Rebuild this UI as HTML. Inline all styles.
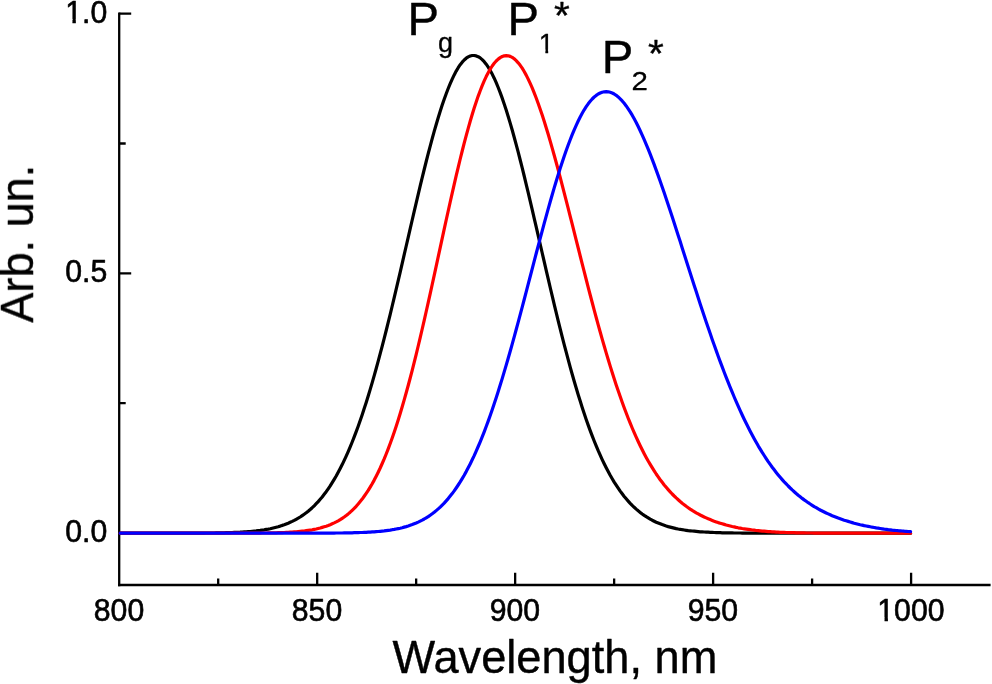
<!DOCTYPE html>
<html lang="en">
<head>
<meta charset="utf-8">
<title>Absorption spectra</title>
<style>
html,body{margin:0;padding:0;background:#fff;}
body{width:992px;height:684px;overflow:hidden;}
svg{display:block;}
text{font-family:"Liberation Sans",Arial,Helvetica,sans-serif;fill:#000;}
.ax{stroke:#000;stroke-width:2.3;fill:none;stroke-linecap:butt;}
.curve{fill:none;stroke-width:3.2;stroke-linejoin:round;stroke-linecap:round;}
</style>
</head>
<body>
<svg width="992" height="684" viewBox="0 0 992 684">
<rect x="0" y="0" width="992" height="684" fill="#ffffff"/>
<path class="ax" d="M119.2,12.50 V586.15"/>
<path class="ax" d="M118.05,585.0 H990.6"/>
<path class="ax" d="M119.2,13.65 h12 M119.2,273.35 h12 M119.2,533.05 h12 M119.2,143.50 h6.5 M119.2,403.20 h6.5 M317.18,585.0 v-12.2 M515.15,585.0 v-12.2 M713.12,585.0 v-12.2 M911.10,585.0 v-12.2 M218.19,585.0 v-6.5 M416.16,585.0 v-6.5 M614.14,585.0 v-6.5 M812.11,585.0 v-6.5"/>
<path class="curve" stroke="#000000" d="M120.2,533.2 L122.2,533.2 L124.2,533.2 L126.2,533.2 L128.2,533.2 L130.2,533.2 L132.2,533.2 L134.2,533.2 L136.2,533.2 L138.2,533.2 L140.2,533.2 L142.2,533.2 L144.2,533.2 L146.2,533.2 L148.2,533.2 L150.2,533.2 L152.2,533.2 L154.2,533.2 L156.2,533.2 L158.2,533.2 L160.2,533.2 L162.2,533.2 L164.2,533.2 L166.2,533.2 L168.2,533.2 L170.2,533.2 L172.2,533.2 L174.2,533.2 L176.2,533.2 L178.2,533.2 L180.2,533.2 L182.2,533.2 L184.2,533.2 L186.2,533.2 L188.2,533.2 L190.2,533.1 L192.2,533.1 L194.2,533.1 L196.2,533.1 L198.2,533.1 L200.2,533.1 L202.2,533.1 L204.2,533.1 L206.2,533.0 L208.2,533.0 L210.2,533.0 L212.2,533.0 L214.2,533.0 L216.2,532.9 L218.2,532.9 L220.2,532.9 L222.2,532.8 L224.2,532.8 L226.2,532.7 L228.2,532.7 L230.2,532.6 L232.2,532.5 L234.2,532.4 L236.2,532.4 L238.2,532.3 L240.2,532.2 L242.2,532.0 L244.2,531.9 L246.2,531.8 L248.2,531.6 L250.2,531.5 L252.2,531.3 L254.2,531.1 L256.2,530.9 L258.2,530.6 L260.2,530.4 L262.2,530.1 L264.2,529.8 L266.2,529.4 L268.2,529.1 L270.2,528.7 L272.2,528.2 L274.2,527.7 L276.2,527.2 L278.2,526.7 L280.2,526.1 L282.2,525.4 L284.2,524.8 L286.2,524.0 L288.2,523.2 L290.2,522.3 L292.2,521.4 L294.2,520.4 L296.2,519.3 L298.2,518.2 L300.2,517.0 L302.2,515.6 L304.2,514.2 L306.2,512.8 L308.2,511.2 L310.2,509.5 L312.2,507.7 L314.2,505.8 L316.2,503.7 L318.2,501.6 L320.2,499.3 L322.2,496.9 L324.2,494.3 L326.2,491.7 L328.2,488.8 L330.2,485.9 L332.2,482.7 L334.2,479.4 L336.2,476.0 L338.2,472.3 L340.2,468.5 L342.2,464.6 L344.2,460.4 L346.2,456.1 L348.2,451.6 L350.2,446.9 L352.2,442.0 L354.2,436.9 L356.2,431.6 L358.2,426.2 L360.2,420.5 L362.2,414.7 L364.2,408.6 L366.2,402.4 L368.2,396.0 L370.2,389.4 L372.2,382.6 L374.2,375.6 L376.2,368.5 L378.2,361.2 L380.2,353.7 L382.2,346.1 L384.2,338.4 L386.2,330.5 L388.2,322.4 L390.2,314.3 L392.2,306.0 L394.2,297.6 L396.2,289.2 L398.2,280.6 L400.2,272.1 L402.2,263.4 L404.2,254.7 L406.2,246.0 L408.2,237.3 L410.2,228.6 L412.2,220.0 L414.2,211.4 L416.2,202.8 L418.2,194.3 L420.2,185.9 L422.2,177.7 L424.2,169.5 L426.2,161.5 L428.2,153.7 L430.2,146.1 L432.2,138.7 L434.2,131.4 L436.2,124.5 L438.2,117.7 L440.2,111.3 L442.2,105.1 L444.2,99.2 L446.2,93.7 L448.2,88.5 L450.2,83.6 L452.2,79.1 L454.2,74.9 L456.2,71.1 L458.2,67.7 L460.2,64.7 L462.2,62.2 L464.2,60.0 L466.2,58.2 L468.2,56.9 L470.2,56.0 L472.2,55.5 L474.2,55.5 L476.2,55.9 L478.2,56.7 L480.2,57.9 L482.2,59.6 L484.2,61.7 L486.2,64.2 L488.2,67.1 L490.2,70.4 L492.2,74.1 L494.2,78.2 L496.2,82.6 L498.2,87.5 L500.2,92.6 L502.2,98.1 L504.2,103.9 L506.2,110.0 L508.2,116.4 L510.2,123.1 L512.2,130.0 L514.2,137.2 L516.2,144.6 L518.2,152.2 L520.2,160.0 L522.2,167.9 L524.2,176.0 L526.2,184.3 L528.2,192.6 L530.2,201.1 L532.2,209.7 L534.2,218.3 L536.2,226.9 L538.2,235.6 L540.2,244.3 L542.2,253.0 L544.2,261.7 L546.2,270.3 L548.2,278.9 L550.2,287.5 L552.2,295.9 L554.2,304.3 L556.2,312.6 L558.2,320.8 L560.2,328.9 L562.2,336.8 L564.2,344.6 L566.2,352.2 L568.2,359.7 L570.2,367.1 L572.2,374.2 L574.2,381.2 L576.2,388.0 L578.2,394.7 L580.2,401.1 L582.2,407.4 L584.2,413.5 L586.2,419.4 L588.2,425.1 L590.2,430.6 L592.2,435.9 L594.2,441.0 L596.2,445.9 L598.2,450.7 L600.2,455.2 L602.2,459.6 L604.2,463.8 L606.2,467.8 L608.2,471.6 L610.2,475.3 L612.2,478.7 L614.2,482.1 L616.2,485.2 L618.2,488.2 L620.2,491.1 L622.2,493.8 L624.2,496.4 L626.2,498.8 L628.2,501.1 L630.2,503.3 L632.2,505.4 L634.2,507.3 L636.2,509.1 L638.2,510.8 L640.2,512.4 L642.2,514.0 L644.2,515.4 L646.2,516.7 L648.2,517.9 L650.2,519.1 L652.2,520.2 L654.2,521.2 L656.2,522.2 L658.2,523.0 L660.2,523.8 L662.2,524.6 L664.2,525.3 L666.2,526.0 L668.2,526.6 L670.2,527.1 L672.2,527.6 L674.2,528.1 L676.2,528.6 L678.2,529.0 L680.2,529.3 L682.2,529.7 L684.2,530.0 L686.2,530.3 L688.2,530.6 L690.2,530.8 L692.2,531.0 L694.2,531.2 L696.2,531.4 L698.2,531.6 L700.2,531.8 L702.2,531.9 L704.2,532.0 L706.2,532.1 L708.2,532.2 L710.2,532.3 L712.2,532.4 L714.2,532.5 L716.2,532.6 L718.2,532.6 L720.2,532.7 L722.2,532.8 L724.2,532.8 L726.2,532.8 L728.2,532.9 L730.2,532.9 L732.2,532.9 L734.2,533.0 L736.2,533.0 L738.2,533.0 L740.2,533.0 L742.2,533.1 L744.2,533.1 L746.2,533.1 L748.2,533.1 L750.2,533.1 L752.2,533.1 L754.2,533.1 L756.2,533.1 L758.2,533.1 L760.2,533.2 L762.2,533.2 L764.2,533.2 L766.2,533.2 L768.2,533.2 L770.2,533.2 L772.2,533.2 L774.2,533.2 L776.2,533.2 L778.2,533.2 L780.2,533.2 L782.2,533.2 L784.2,533.2 L786.2,533.2 L788.2,533.2 L790.2,533.2 L792.2,533.2 L794.2,533.2 L796.2,533.2 L798.2,533.2 L800.2,533.2 L802.2,533.2 L804.2,533.2 L806.2,533.2 L808.2,533.2 L810.2,533.2 L812.2,533.2 L814.2,533.2 L816.2,533.2 L818.2,533.2 L820.2,533.2 L822.2,533.2 L824.2,533.2 L826.2,533.2 L828.2,533.2 L830.2,533.2 L832.2,533.2 L834.2,533.2 L836.2,533.2 L838.2,533.2 L840.2,533.2 L842.2,533.2 L844.2,533.2 L846.2,533.2 L848.2,533.2 L850.2,533.2 L852.2,533.2 L854.2,533.2 L856.2,533.2 L858.2,533.2 L860.2,533.2 L862.2,533.2 L864.2,533.2 L866.2,533.2 L868.2,533.2 L870.2,533.2 L872.2,533.2 L874.2,533.2 L876.2,533.2 L878.2,533.2 L880.2,533.2 L882.2,533.2 L884.2,533.2 L886.2,533.2 L888.2,533.2 L890.2,533.2 L892.2,533.2 L894.2,533.2 L896.2,533.2 L898.2,533.2 L900.2,533.2 L902.2,533.2 L904.2,533.2 L906.2,533.2 L908.2,533.2 L910.2,533.2 L910.6,533.2"/>
<path class="curve" stroke="#ff0000" d="M120.2,533.2 L122.2,533.2 L124.2,533.2 L126.2,533.2 L128.2,533.2 L130.2,533.2 L132.2,533.2 L134.2,533.2 L136.2,533.2 L138.2,533.2 L140.2,533.2 L142.2,533.2 L144.2,533.2 L146.2,533.2 L148.2,533.2 L150.2,533.2 L152.2,533.2 L154.2,533.2 L156.2,533.2 L158.2,533.2 L160.2,533.2 L162.2,533.2 L164.2,533.2 L166.2,533.2 L168.2,533.2 L170.2,533.2 L172.2,533.2 L174.2,533.2 L176.2,533.2 L178.2,533.2 L180.2,533.2 L182.2,533.2 L184.2,533.2 L186.2,533.2 L188.2,533.2 L190.2,533.2 L192.2,533.2 L194.2,533.2 L196.2,533.2 L198.2,533.2 L200.2,533.2 L202.2,533.2 L204.2,533.2 L206.2,533.2 L208.2,533.2 L210.2,533.2 L212.2,533.2 L214.2,533.2 L216.2,533.2 L218.2,533.2 L220.2,533.2 L222.2,533.2 L224.2,533.2 L226.2,533.2 L228.2,533.2 L230.2,533.2 L232.2,533.2 L234.2,533.2 L236.2,533.2 L238.2,533.2 L240.2,533.2 L242.2,533.2 L244.2,533.2 L246.2,533.1 L248.2,533.1 L250.2,533.1 L252.2,533.1 L254.2,533.1 L256.2,533.1 L258.2,533.1 L260.2,533.1 L262.2,533.0 L264.2,533.0 L266.2,533.0 L268.2,532.9 L270.2,532.9 L272.2,532.9 L274.2,532.8 L276.2,532.8 L278.2,532.7 L280.2,532.7 L282.2,532.6 L284.2,532.5 L286.2,532.4 L288.2,532.3 L290.2,532.2 L292.2,532.1 L294.2,531.9 L296.2,531.8 L298.2,531.6 L300.2,531.4 L302.2,531.2 L304.2,531.0 L306.2,530.7 L308.2,530.4 L310.2,530.1 L312.2,529.8 L314.2,529.4 L316.2,529.0 L318.2,528.5 L320.2,528.0 L322.2,527.4 L324.2,526.8 L326.2,526.2 L328.2,525.5 L330.2,524.7 L332.2,523.8 L334.2,522.9 L336.2,521.9 L338.2,520.8 L340.2,519.6 L342.2,518.3 L344.2,517.0 L346.2,515.5 L348.2,513.9 L350.2,512.2 L352.2,510.3 L354.2,508.4 L356.2,506.3 L358.2,504.0 L360.2,501.6 L362.2,499.1 L364.2,496.3 L366.2,493.4 L368.2,490.4 L370.2,487.1 L372.2,483.7 L374.2,480.1 L376.2,476.2 L378.2,472.2 L380.2,468.0 L382.2,463.5 L384.2,458.9 L386.2,454.0 L388.2,448.9 L390.2,443.5 L392.2,438.0 L394.2,432.2 L396.2,426.2 L398.2,420.0 L400.2,413.5 L402.2,406.8 L404.2,399.9 L406.2,392.8 L408.2,385.5 L410.2,378.0 L412.2,370.3 L414.2,362.4 L416.2,354.3 L418.2,346.0 L420.2,337.6 L422.2,329.0 L424.2,320.3 L426.2,311.5 L428.2,302.6 L430.2,293.6 L432.2,284.5 L434.2,275.3 L436.2,266.1 L438.2,256.9 L440.2,247.6 L442.2,238.4 L444.2,229.2 L446.2,220.0 L448.2,211.0 L450.2,202.0 L452.2,193.1 L454.2,184.3 L456.2,175.7 L458.2,167.3 L460.2,159.0 L462.2,151.0 L464.2,143.2 L466.2,135.6 L468.2,128.3 L470.2,121.2 L472.2,114.5 L474.2,108.0 L476.2,101.9 L478.2,96.1 L480.2,90.7 L482.2,85.6 L484.2,80.9 L486.2,76.6 L488.2,72.7 L490.2,69.1 L492.2,66.0 L494.2,63.3 L496.2,61.0 L498.2,59.1 L500.2,57.6 L502.2,56.5 L504.2,55.9 L506.2,55.7 L508.2,55.8 L510.2,56.4 L512.2,57.4 L514.2,58.8 L516.2,60.6 L518.2,62.8 L520.2,65.3 L522.2,68.2 L524.2,71.5 L526.2,75.1 L528.2,79.1 L530.2,83.4 L532.2,87.9 L534.2,92.8 L536.2,98.0 L538.2,103.5 L540.2,109.2 L542.2,115.1 L544.2,121.3 L546.2,127.7 L548.2,134.3 L550.2,141.1 L552.2,148.1 L554.2,155.2 L556.2,162.5 L558.2,169.9 L560.2,177.4 L562.2,185.1 L564.2,192.8 L566.2,200.6 L568.2,208.4 L570.2,216.3 L572.2,224.2 L574.2,232.1 L576.2,240.1 L578.2,248.0 L580.2,256.0 L582.2,263.9 L584.2,271.7 L586.2,279.5 L588.2,287.3 L590.2,295.0 L592.2,302.5 L594.2,310.1 L596.2,317.5 L598.2,324.8 L600.2,332.0 L602.2,339.1 L604.2,346.0 L606.2,352.9 L608.2,359.5 L610.2,366.1 L612.2,372.5 L614.2,378.8 L616.2,384.9 L618.2,390.8 L620.2,396.6 L622.2,402.2 L624.2,407.7 L626.2,413.0 L628.2,418.2 L630.2,423.2 L632.2,428.0 L634.2,432.7 L636.2,437.2 L638.2,441.5 L640.2,445.7 L642.2,449.8 L644.2,453.7 L646.2,457.4 L648.2,461.0 L650.2,464.4 L652.2,467.7 L654.2,470.9 L656.2,474.0 L658.2,476.9 L660.2,479.7 L662.2,482.3 L664.2,484.9 L666.2,487.3 L668.2,489.6 L670.2,491.8 L672.2,494.0 L674.2,496.0 L676.2,497.9 L678.2,499.7 L680.2,501.5 L682.2,503.2 L684.2,504.7 L686.2,506.3 L688.2,507.7 L690.2,509.1 L692.2,510.4 L694.2,511.6 L696.2,512.8 L698.2,513.9 L700.2,515.0 L702.2,516.0 L704.2,517.0 L706.2,517.9 L708.2,518.8 L710.2,519.6 L712.2,520.4 L714.2,521.2 L716.2,521.9 L718.2,522.6 L720.2,523.2 L722.2,523.8 L724.2,524.4 L726.2,525.0 L728.2,525.5 L730.2,526.0 L732.2,526.5 L734.2,526.9 L736.2,527.4 L738.2,527.8 L740.2,528.1 L742.2,528.5 L744.2,528.8 L746.2,529.1 L748.2,529.4 L750.2,529.7 L752.2,530.0 L754.2,530.2 L756.2,530.5 L758.2,530.7 L760.2,530.9 L762.2,531.1 L764.2,531.2 L766.2,531.4 L768.2,531.6 L770.2,531.7 L772.2,531.8 L774.2,531.9 L776.2,532.1 L778.2,532.2 L780.2,532.3 L782.2,532.3 L784.2,532.4 L786.2,532.5 L788.2,532.6 L790.2,532.6 L792.2,532.7 L794.2,532.7 L796.2,532.8 L798.2,532.8 L800.2,532.9 L802.2,532.9 L804.2,532.9 L806.2,533.0 L808.2,533.0 L810.2,533.0 L812.2,533.0 L814.2,533.1 L816.2,533.1 L818.2,533.1 L820.2,533.1 L822.2,533.1 L824.2,533.1 L826.2,533.1 L828.2,533.1 L830.2,533.1 L832.2,533.2 L834.2,533.2 L836.2,533.2 L838.2,533.2 L840.2,533.2 L842.2,533.2 L844.2,533.2 L846.2,533.2 L848.2,533.2 L850.2,533.2 L852.2,533.2 L854.2,533.2 L856.2,533.2 L858.2,533.2 L860.2,533.2 L862.2,533.2 L864.2,533.2 L866.2,533.2 L868.2,533.2 L870.2,533.2 L872.2,533.2 L874.2,533.2 L876.2,533.2 L878.2,533.2 L880.2,533.2 L882.2,533.2 L884.2,533.2 L886.2,533.2 L888.2,533.2 L890.2,533.2 L892.2,533.2 L894.2,533.2 L896.2,533.2 L898.2,533.2 L900.2,533.2 L902.2,533.2 L904.2,533.2 L906.2,533.2 L908.2,533.2 L910.2,533.2 L910.6,533.2"/>
<path class="curve" stroke="#0000ff" d="M120.2,533.2 L122.2,533.2 L124.2,533.2 L126.2,533.2 L128.2,533.2 L130.2,533.2 L132.2,533.2 L134.2,533.2 L136.2,533.2 L138.2,533.2 L140.2,533.2 L142.2,533.2 L144.2,533.2 L146.2,533.2 L148.2,533.2 L150.2,533.2 L152.2,533.2 L154.2,533.2 L156.2,533.2 L158.2,533.2 L160.2,533.2 L162.2,533.2 L164.2,533.2 L166.2,533.2 L168.2,533.2 L170.2,533.2 L172.2,533.2 L174.2,533.2 L176.2,533.2 L178.2,533.2 L180.2,533.2 L182.2,533.2 L184.2,533.2 L186.2,533.2 L188.2,533.2 L190.2,533.2 L192.2,533.2 L194.2,533.2 L196.2,533.2 L198.2,533.2 L200.2,533.2 L202.2,533.2 L204.2,533.2 L206.2,533.2 L208.2,533.2 L210.2,533.2 L212.2,533.2 L214.2,533.2 L216.2,533.2 L218.2,533.2 L220.2,533.2 L222.2,533.2 L224.2,533.2 L226.2,533.2 L228.2,533.2 L230.2,533.2 L232.2,533.2 L234.2,533.2 L236.2,533.2 L238.2,533.2 L240.2,533.2 L242.2,533.2 L244.2,533.2 L246.2,533.2 L248.2,533.2 L250.2,533.2 L252.2,533.2 L254.2,533.2 L256.2,533.2 L258.2,533.2 L260.2,533.2 L262.2,533.2 L264.2,533.2 L266.2,533.2 L268.2,533.2 L270.2,533.2 L272.2,533.2 L274.2,533.2 L276.2,533.2 L278.2,533.2 L280.2,533.2 L282.2,533.2 L284.2,533.2 L286.2,533.2 L288.2,533.2 L290.2,533.2 L292.2,533.2 L294.2,533.2 L296.2,533.2 L298.2,533.2 L300.2,533.2 L302.2,533.2 L304.2,533.2 L306.2,533.2 L308.2,533.2 L310.2,533.2 L312.2,533.2 L314.2,533.2 L316.2,533.2 L318.2,533.1 L320.2,533.1 L322.2,533.1 L324.2,533.1 L326.2,533.1 L328.2,533.1 L330.2,533.1 L332.2,533.1 L334.2,533.1 L336.2,533.0 L338.2,533.0 L340.2,533.0 L342.2,533.0 L344.2,532.9 L346.2,532.9 L348.2,532.9 L350.2,532.8 L352.2,532.8 L354.2,532.7 L356.2,532.7 L358.2,532.6 L360.2,532.5 L362.2,532.5 L364.2,532.4 L366.2,532.3 L368.2,532.2 L370.2,532.1 L372.2,531.9 L374.2,531.8 L376.2,531.6 L378.2,531.5 L380.2,531.3 L382.2,531.1 L384.2,530.9 L386.2,530.6 L388.2,530.3 L390.2,530.1 L392.2,529.7 L394.2,529.4 L396.2,529.0 L398.2,528.6 L400.2,528.2 L402.2,527.7 L404.2,527.1 L406.2,526.6 L408.2,526.0 L410.2,525.3 L412.2,524.6 L414.2,523.8 L416.2,523.0 L418.2,522.1 L420.2,521.1 L422.2,520.1 L424.2,519.0 L426.2,517.8 L428.2,516.6 L430.2,515.2 L432.2,513.8 L434.2,512.3 L436.2,510.6 L438.2,508.9 L440.2,507.1 L442.2,505.1 L444.2,503.1 L446.2,500.9 L448.2,498.6 L450.2,496.1 L452.2,493.6 L454.2,490.9 L456.2,488.0 L458.2,485.0 L460.2,481.9 L462.2,478.6 L464.2,475.2 L466.2,471.6 L468.2,467.8 L470.2,463.9 L472.2,459.8 L474.2,455.6 L476.2,451.1 L478.2,446.5 L480.2,441.8 L482.2,436.9 L484.2,431.8 L486.2,426.5 L488.2,421.1 L490.2,415.5 L492.2,409.7 L494.2,403.8 L496.2,397.7 L498.2,391.5 L500.2,385.1 L502.2,378.6 L504.2,371.9 L506.2,365.1 L508.2,358.2 L510.2,351.2 L512.2,344.1 L514.2,336.8 L516.2,329.5 L518.2,322.1 L520.2,314.6 L522.2,307.1 L524.2,299.5 L526.2,291.8 L528.2,284.2 L530.2,276.5 L532.2,268.8 L534.2,261.2 L536.2,253.5 L538.2,245.9 L540.2,238.4 L542.2,230.9 L544.2,223.4 L546.2,216.1 L548.2,208.9 L550.2,201.8 L552.2,194.8 L554.2,187.9 L556.2,181.2 L558.2,174.7 L560.2,168.3 L562.2,162.2 L564.2,156.2 L566.2,150.5 L568.2,145.0 L570.2,139.7 L572.2,134.6 L574.2,129.8 L576.2,125.3 L578.2,121.0 L580.2,117.0 L582.2,113.3 L584.2,109.8 L586.2,106.7 L588.2,103.8 L590.2,101.3 L592.2,99.0 L594.2,97.0 L596.2,95.4 L598.2,94.0 L600.2,93.0 L602.2,92.2 L604.2,91.8 L606.2,91.7 L608.2,91.8 L610.2,92.3 L612.2,93.0 L614.2,94.0 L616.2,95.3 L618.2,96.9 L620.2,98.8 L622.2,100.9 L624.2,103.3 L626.2,105.9 L628.2,108.8 L630.2,111.9 L632.2,115.2 L634.2,118.8 L636.2,122.5 L638.2,126.5 L640.2,130.7 L642.2,135.1 L644.2,139.6 L646.2,144.3 L648.2,149.2 L650.2,154.2 L652.2,159.4 L654.2,164.6 L656.2,170.1 L658.2,175.6 L660.2,181.2 L662.2,187.0 L664.2,192.8 L666.2,198.7 L668.2,204.7 L670.2,210.7 L672.2,216.8 L674.2,223.0 L676.2,229.2 L678.2,235.4 L680.2,241.6 L682.2,247.9 L684.2,254.2 L686.2,260.4 L688.2,266.7 L690.2,273.0 L692.2,279.2 L694.2,285.4 L696.2,291.6 L698.2,297.8 L700.2,303.9 L702.2,309.9 L704.2,315.9 L706.2,321.9 L708.2,327.8 L710.2,333.6 L712.2,339.4 L714.2,345.0 L716.2,350.6 L718.2,356.2 L720.2,361.6 L722.2,366.9 L724.2,372.2 L726.2,377.3 L728.2,382.4 L730.2,387.4 L732.2,392.2 L734.2,397.0 L736.2,401.6 L738.2,406.2 L740.2,410.6 L742.2,415.0 L744.2,419.2 L746.2,423.3 L748.2,427.3 L750.2,431.2 L752.2,435.0 L754.2,438.7 L756.2,442.3 L758.2,445.8 L760.2,449.1 L762.2,452.4 L764.2,455.5 L766.2,458.6 L768.2,461.6 L770.2,464.4 L772.2,467.2 L774.2,469.8 L776.2,472.4 L778.2,474.9 L780.2,477.3 L782.2,479.6 L784.2,481.8 L786.2,483.9 L788.2,486.0 L790.2,488.0 L792.2,489.9 L794.2,491.7 L796.2,493.5 L798.2,495.2 L800.2,496.8 L802.2,498.4 L804.2,499.9 L806.2,501.3 L808.2,502.7 L810.2,504.0 L812.2,505.3 L814.2,506.6 L816.2,507.7 L818.2,508.9 L820.2,510.0 L822.2,511.0 L824.2,512.0 L826.2,513.0 L828.2,513.9 L830.2,514.8 L832.2,515.7 L834.2,516.5 L836.2,517.3 L838.2,518.1 L840.2,518.8 L842.2,519.5 L844.2,520.2 L846.2,520.8 L848.2,521.4 L850.2,522.0 L852.2,522.6 L854.2,523.2 L856.2,523.7 L858.2,524.2 L860.2,524.7 L862.2,525.1 L864.2,525.6 L866.2,526.0 L868.2,526.4 L870.2,526.8 L872.2,527.2 L874.2,527.5 L876.2,527.9 L878.2,528.2 L880.2,528.5 L882.2,528.8 L884.2,529.1 L886.2,529.3 L888.2,529.6 L890.2,529.8 L892.2,530.1 L894.2,530.3 L896.2,530.5 L898.2,530.7 L900.2,530.8 L902.2,531.0 L904.2,531.2 L906.2,531.3 L908.2,531.5 L910.2,531.6 L910.6,531.6"/>
<g opacity="0.999">
<clipPath id="c1"><path clip-rule="evenodd" d="M-300,-100H300V60H-300Z M-40.98,-3.56H-34.74V3.30H-40.98Z M-31.37,-3.56H-25.36V3.30H-31.37Z"/></clipPath>
<text transform="translate(107.2,22.6) scale(1,1.04)" font-size="30.2" text-anchor="end" stroke="#000" stroke-width="0.6" stroke-linejoin="round" clip-path="url(#c1)">1.0</text>
<text transform="translate(107.2,282.35) scale(1,1.04)" font-size="30.2" text-anchor="end" stroke="#000" stroke-width="0.6" stroke-linejoin="round">0.5</text>
<text transform="translate(107.2,542.4) scale(1,1.04)" font-size="30.2" text-anchor="end" stroke="#000" stroke-width="0.6" stroke-linejoin="round">0.0</text>
<text transform="translate(119.0,621.2) scale(1,1.04)" font-size="30.2" text-anchor="middle" stroke="#000" stroke-width="0.6" stroke-linejoin="round">800</text>
<text transform="translate(317.0,621.2) scale(1,1.04)" font-size="30.2" text-anchor="middle" stroke="#000" stroke-width="0.6" stroke-linejoin="round">850</text>
<text transform="translate(514.9,621.2) scale(1,1.04)" font-size="30.2" text-anchor="middle" stroke="#000" stroke-width="0.6" stroke-linejoin="round">900</text>
<text transform="translate(712.9,621.2) scale(1,1.04)" font-size="30.2" text-anchor="middle" stroke="#000" stroke-width="0.6" stroke-linejoin="round">950</text>
<clipPath id="c2"><path clip-rule="evenodd" d="M-300,-100H300V60H-300Z M-32.59,-3.56H-26.35V3.30H-32.59Z M-22.98,-3.56H-16.97V3.30H-22.98Z"/></clipPath>
<text transform="translate(910.9,621.2) scale(1,1.04)" font-size="30.2" text-anchor="middle" stroke="#000" stroke-width="0.6" stroke-linejoin="round" clip-path="url(#c2)">1000</text>
<text transform="translate(554.9,673.3) scale(1,1.02)" font-size="45.2" text-anchor="middle" stroke="#000" stroke-width="0.4" stroke-linejoin="round">Wavelength, nm</text>
<text transform="translate(33.2,243.7) rotate(-90) scale(1,1.03)" font-size="45.1" text-anchor="middle" stroke="#000" stroke-width="0.4" stroke-linejoin="round">Arb. un.</text>
<text transform="translate(407.4,35.3) scale(1,0.985)" font-size="47.2" text-anchor="start" stroke="#000" stroke-width="0.4" stroke-linejoin="round">P</text>
<text transform="translate(438.1,52.4)" font-size="27" text-anchor="start" stroke="#000" stroke-width="0.3" stroke-linejoin="round">g</text>
<text transform="translate(507.4,35.3) scale(1,0.985)" font-size="47.2" text-anchor="start" stroke="#000" stroke-width="0.4" stroke-linejoin="round">P</text>
<clipPath id="c3"><path clip-rule="evenodd" d="M-300,-100H300V60H-300Z M0.91,-3.17H6.59V3.15H0.91Z M9.37,-3.17H14.85V3.15H9.37Z"/></clipPath>
<text transform="translate(538.8,52.7) scale(1,1.03)" font-size="27" text-anchor="start" stroke="#000" stroke-width="0.3" stroke-linejoin="round" clip-path="url(#c3)">1</text>
<text transform="translate(554.1,29.3) scale(1,0.95)" font-size="40.5" text-anchor="start" stroke="#000" stroke-width="0.4" stroke-linejoin="round">*</text>
<text transform="translate(601.8,72.5) scale(1,0.985)" font-size="47.2" text-anchor="start" stroke="#000" stroke-width="0.4" stroke-linejoin="round">P</text>
<text transform="translate(631.6,89.9) scale(1.09,0.97)" font-size="27" text-anchor="start" stroke="#000" stroke-width="0.3" stroke-linejoin="round">2</text>
<text transform="translate(647.9,66.5) scale(1,0.95)" font-size="40.5" text-anchor="start" stroke="#000" stroke-width="0.4" stroke-linejoin="round">*</text>
</g>
</svg>
</body>
</html>
